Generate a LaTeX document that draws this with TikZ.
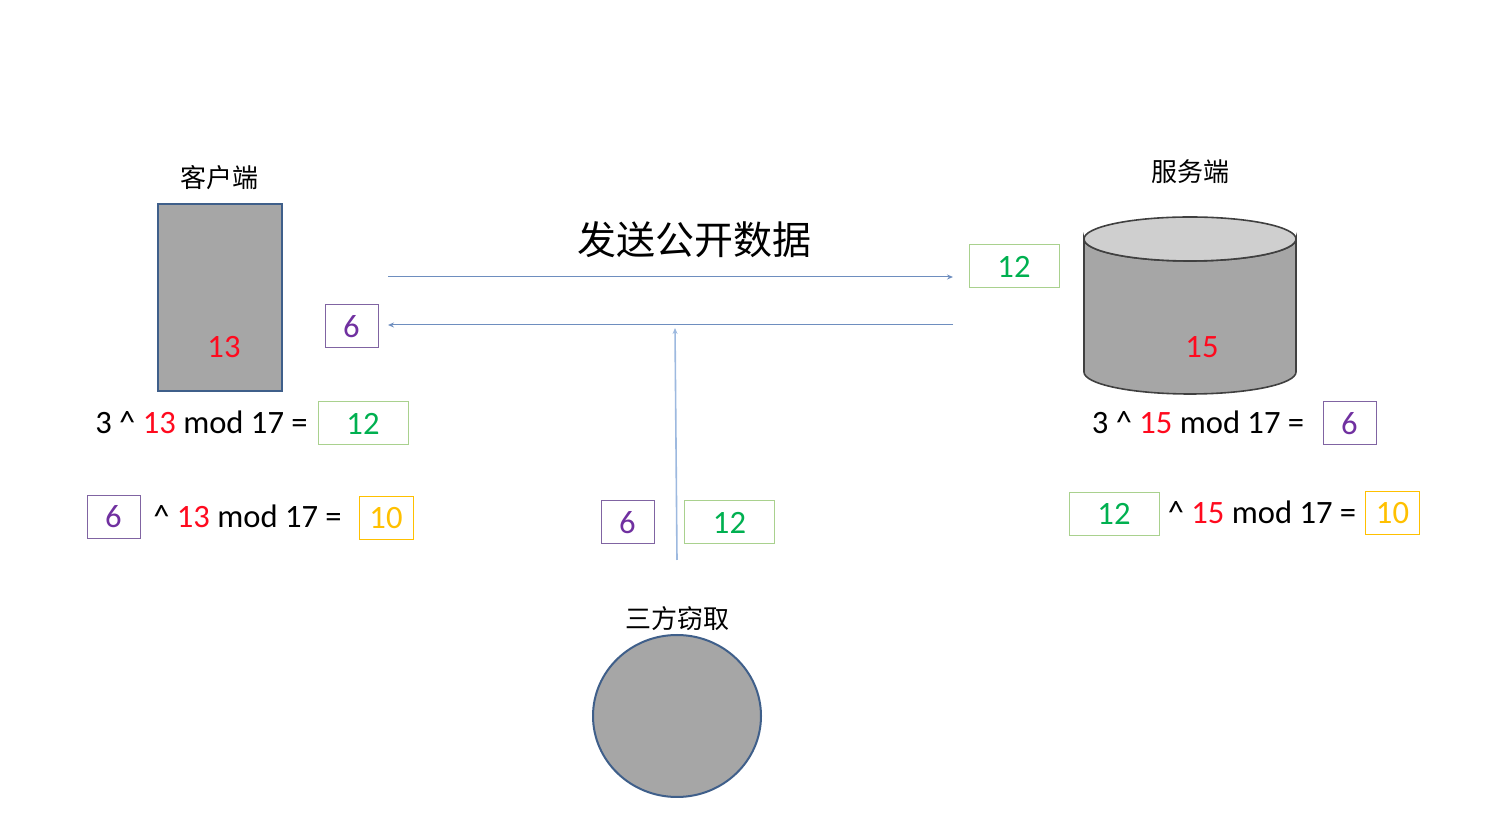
\documentclass[tikz,border=0pt]{standalone}
\usepackage{fontspec}
\setmainfont{Carlito}
\newfontfamily\cjk{Noto Sans CJK SC}
\usetikzlibrary{arrows.meta,shapes.geometric}
\definecolor{keyred}{HTML}{FF0A1E}
\definecolor{pubgreen}{HTML}{00B050}
\definecolor{pubpurple}{HTML}{7030A0}
\definecolor{secorange}{HTML}{FFC000}
\definecolor{greenline}{HTML}{A9D18E}
\definecolor{purpleline}{HTML}{8064A2}
\definecolor{bodygray}{HTML}{A6A6A6}
\definecolor{topgray}{HTML}{CFCFCF}
\definecolor{edgeblue}{HTML}{3F5F8A}
\definecolor{arrowblue}{HTML}{6E8EBF}
\definecolor{eveblue}{HTML}{9DB9DF}
\tikzset{
  numbox/.style={draw, minimum height=21.5pt, inner sep=0pt, line width=0.5pt, font=\fontsize{16.3}{18}\selectfont},
  greenbox/.style={numbox, draw=greenline, text=pubgreen, minimum width=45pt},
  purplebox/.style={numbox, draw=purpleline, text=pubpurple, minimum width=26.5pt},
  orangebox/.style={numbox, draw=secorange, text=secorange, minimum width=27pt},
  eqn/.style={inner sep=0pt, font=\fontsize{16.3}{18}\selectfont},
  role/.style={inner sep=0pt, font=\cjk\fontsize{13}{15}\selectfont},
  flow/.style={draw=arrowblue, line width=0.5pt, -{Stealth[length=3pt,width=2.5pt]}}
}
\newcommand{\key}[1]{\textcolor{keyred}{#1}}
\begin{document}
\begin{tikzpicture}[x=0.5pt,y=-0.5pt]
\useasboundingbox (0,0) rectangle (1490,838);
% client
\node[role] (clientlabel) at (219,178) {客户端};
\node[draw=edgeblue, line width=1pt, fill=bodygray, minimum width=62pt, minimum height=93.5pt, inner sep=0pt] (client) at (220,297.5) {};
\node[eqn, text=keyred] (clientkey) at (224,347) {13};
\node[eqn] (clienteq) at (201.5,422) {3 \textasciicircum{} \key{13} mod 17 =};
\node[greenbox] (clientpub) at (363,423.5) {12};
\node[purplebox] (clientin) at (113.5,517) {6};
\node[eqn] (clienteqb) at (247.5,516) {\textasciicircum{} \key{13} mod 17 =};
\node[orangebox] (clientsec) at (386,518) {10};
\node[purplebox] (recvsix) at (351.5,326.5) {6};
% server
\node[role] (serverlabel) at (1190,172) {服务端};
\filldraw[draw=black!75, fill=bodygray, line width=0.8pt] (1084,239) -- (1084,372)
  arc[start angle=180, end angle=360, x radius=53pt, y radius=11pt] -- (1296,239)
  arc[start angle=0, end angle=-180, x radius=53pt, y radius=11pt] -- cycle;
\filldraw[draw=black!75, fill=topgray, line width=0.8pt] (1190,239) ellipse [x radius=53pt, y radius=11pt];
\node[eqn, text=keyred] (serverkey) at (1202,347) {15};
\node[eqn] (servereq) at (1198,422) {3 \textasciicircum{} \key{15} mod 17 =};
\node[purplebox] (serverpub) at (1349.5,423.5) {6};
\node[greenbox] (serverin) at (1114,514) {12};
\node[eqn] (servereqb) at (1262,512) {\textasciicircum{} \key{15} mod 17 =};
\node[orangebox] (serversec) at (1392.5,513.5) {10};
\node[greenbox] (recvtwelve) at (1014,266.5) {12};
% channel
\node[inner sep=0pt, font=\cjk\fontsize{19.5}{22}\selectfont] (title) at (694,240) {发送公开数据};
\coordinate (sendfrom) at (388,277);
\coordinate (sendto) at (953,277);
\coordinate (backfrom) at (953,325);
\coordinate (backto) at (388,325);
\draw[flow] (sendfrom) -- (sendto);
\draw[flow] (backfrom) -- (backto);
% eavesdropper
\node[purplebox] (evesix) at (627.5,522.5) {6};
\node[greenbox] (evetwelve) at (729.5,522.5) {12};
\node[role] (evelabel) at (677,619) {三方窃取};
\node[ellipse, draw=edgeblue, line width=1pt, fill=bodygray, minimum width=84pt, minimum height=81pt, inner sep=0pt] (eve) at (677,716) {};
\coordinate (tapfrom) at (677,560);
\coordinate (tapto) at (675,328);
\draw[flow, draw=eveblue, line width=0.8pt] (tapfrom) -- (tapto);
\end{tikzpicture}
\end{document}
